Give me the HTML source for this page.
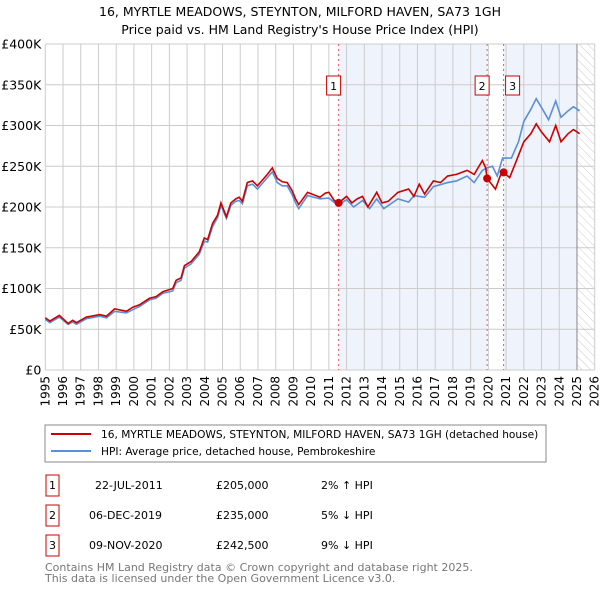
<!DOCTYPE html>
<html><head><meta charset="utf-8"><style>
body{margin:0;background:#fff;font-family:"Liberation Sans","DejaVu Sans",sans-serif;}
svg text{font-family:"DejaVu Sans","Liberation Sans",sans-serif;}
</style></head><body>
<svg id="c" width="600" height="590" xmlns="http://www.w3.org/2000/svg">
<defs><pattern id="hatch" width="6" height="6" patternUnits="userSpaceOnUse" patternTransform="rotate(-45)"><line x1="0" y1="0" x2="0" y2="6" stroke="#ccc" stroke-width="1"/></pattern></defs>
<text x="300" y="16" text-anchor="middle" font-size="12.5" fill="#000">16, MYRTLE MEADOWS, STEYNTON, MILFORD HAVEN, SA73 1GH</text>
<text x="300" y="34" text-anchor="middle" font-size="12.5" fill="#000">Price paid vs. HM Land Registry's House Price Index (HPI)</text>
<g id="plot"></g>
<rect x="45" y="425" width="501" height="37" fill="#fff" stroke="#888"/>
<line x1="51" y1="434" x2="91" y2="434" stroke="#cc0000" stroke-width="2"/>
<text x="101" y="438" font-size="10.6">16, MYRTLE MEADOWS, STEYNTON, MILFORD HAVEN, SA73 1GH (detached house)</text>
<line x1="51" y1="451" x2="91" y2="451" stroke="#5b8fd6" stroke-width="2"/>
<text x="101" y="455" font-size="10.6">HPI: Average price, detached house, Pembrokeshire</text>
<g font-size="11">
<rect x="46" y="475" width="13" height="21" fill="none" stroke="#cc0000"/><text x="52.5" y="489" text-anchor="middle">1</text>
<text x="95" y="489">22-JUL-2011</text><text x="216" y="489">£205,000</text><text x="321" y="489">2% ↑ HPI</text>
<rect x="46" y="505" width="13" height="21" fill="none" stroke="#cc0000"/><text x="52.5" y="519" text-anchor="middle">2</text>
<text x="89" y="519">06-DEC-2019</text><text x="216" y="519">£235,000</text><text x="321" y="519">5% ↓ HPI</text>
<rect x="46" y="535" width="13" height="21" fill="none" stroke="#cc0000"/><text x="52.5" y="549" text-anchor="middle">3</text>
<text x="89" y="549">09-NOV-2020</text><text x="216" y="549">£242,500</text><text x="321" y="549">9% ↓ HPI</text>
</g>
<text x="45" y="571" font-size="11" fill="#777">Contains HM Land Registry data © Crown copyright and database right 2025.</text>
<text x="45" y="582" font-size="11" fill="#777">This data is licensed under the Open Government Licence v3.0.</text>
</svg>
<script>
const yearTicks=[1995,1996,1997,1998,1999,2000,2001,2002,2003,2004,2005,2006,2007,2008,2009,2010,2011,2012,2013,2014,2015,2016,2017,2018,2019,2020,2021,2022,2023,2024,2025,2026];
const valueTicks=[0,50,100,150,200,250,300,350,400];
const valueTickLabels=["£0","£50K","£100K","£150K","£200K","£250K","£300K","£350K","£400K"];
const redYears=[1995.0,1995.26,1995.79,1996.29,1996.54,1996.76,1997.32,1997.6,1998.07,1998.45,1998.91,1999.57,1999.94,2000.32,2000.88,2001.25,2001.63,2002.19,2002.38,2002.66,2002.85,2003.22,2003.69,2003.97,2004.16,2004.44,2004.72,2004.91,2005.22,2005.47,2005.75,2005.94,2006.12,2006.4,2006.69,2006.97,2007.25,2007.53,2007.81,2008.09,2008.37,2008.65,2008.93,2009.12,2009.3,2009.8,2010.5,2010.8,2011.0,2011.3,2011.55,2012.0,2012.3,2012.6,2012.9,2013.2,2013.7,2014.0,2014.35,2014.9,2015.5,2015.8,2016.1,2016.4,2016.9,2017.3,2017.7,2018.2,2018.8,2019.2,2019.66,2019.85,2019.93,2020.4,2020.7,2020.86,2021.2,2021.55,2022.0,2022.4,2022.7,2023.0,2023.45,2023.8,2024.1,2024.5,2024.8,2025.15];
const redValues=[64,60,67,57,61,58,65,66,68,66,75,72,77,80,88,90,96,100,110,113,128,133,145,162,160,180,190,205,188,205,210,212,207,230,232,226,233,240,248,235,231,230,220,210,203,218,212,217,218,208,205,213,205,210,213,200,218,205,207,218,222,213,228,216,232,230,238,240,245,240,257,248,235,222,240,242.5,236,255,280,290,302,292,280,300,280,290,295,290];
const hpiYears=[1995.0,1995.26,1995.79,1996.29,1996.54,1996.76,1997.32,1997.6,1998.07,1998.45,1998.91,1999.57,1999.94,2000.32,2000.88,2001.25,2001.63,2002.19,2002.38,2002.66,2002.85,2003.22,2003.69,2003.97,2004.16,2004.44,2004.72,2004.91,2005.22,2005.47,2005.75,2005.94,2006.12,2006.4,2006.69,2006.97,2007.25,2007.53,2007.81,2008.09,2008.37,2008.65,2008.93,2009.12,2009.3,2009.8,2010.5,2011.0,2011.5,2012.0,2012.4,2012.9,2013.3,2013.7,2014.1,2014.9,2015.5,2015.8,2016.4,2016.9,2017.7,2018.2,2018.8,2019.2,2019.66,2019.94,2020.23,2020.5,2020.8,2021.3,2021.7,2022.0,2022.4,2022.7,2023.0,2023.4,2023.8,2024.1,2024.5,2024.8,2025.15];
const hpiValues=[62,58,65,56,59,56,63,64,66,64,72,70,74,78,86,88,94,97,107,110,125,130,142,158,157,176,187,202,186,202,207,208,204,226,228,222,229,236,243,230,226,226,215,205,198,214,210,211,202,209,200,208,198,210,198,210,206,214,212,225,230,232,238,230,245,248,250,238,260,260,280,305,320,333,322,307,330,310,318,323,318];
const saleYears=[2011.55,2019.93,2020.86];
const saleValues=[205,235,242.5];
const saleLabels=["1","2","3"];

const X0=45.3,X1=594.7,Y0=370,Y1=44;
const xs=y=>X0+(y-1995)*(X1-X0)/31;
const ys=v=>Y0-v*(Y0-Y1)/400;
const NS="http://www.w3.org/2000/svg";
const g=document.getElementById('plot');
function mk(t,a){const e=document.createElementNS(NS,t);for(const k in a)e.setAttribute(k,a[k]);g.appendChild(e);return e;}
let e;
e=mk('rect',{x:xs(saleYears[0]),y:Y1,width:xs(saleYears[1])-xs(saleYears[0]),height:Y0-Y1,fill:'#eef3fc'});


e=mk('rect',{x:xs(saleYears[2]),y:Y1,width:xs(2025.0)-xs(saleYears[2]),height:Y0-Y1,fill:'#eef3fc'});


e=mk('rect',{x:xs(2025.0),y:Y1,width:X1-xs(2025.0),height:Y0-Y1,fill:'url(#hatch)'});


yearTicks.forEach(y=>{
 e=mk('line',{x1:xs(y),x2:xs(y),y1:Y1,y2:Y0,stroke:'#ccc','stroke-width':1});
 
 
 e=mk('text',{x:0,y:0,'font-size':12,'text-anchor':'end',transform:`translate(${xs(y)+4},${Y0+6}) rotate(-90)`});
 e.textContent=y;
 
 
});
valueTicks.forEach((v,i)=>{
 e=mk('line',{x1:X0,x2:X1,y1:ys(v),y2:ys(v),stroke:'#ccc','stroke-width':1});
 
 
 e=mk('text',{x:X0-4,y:ys(v)+4.5,'font-size':12.5,'text-anchor':'end'});
 e.textContent=valueTickLabels[i];
 
 
});
e=mk('line',{x1:xs(2025.0),x2:xs(2025.0),y1:Y1,y2:Y0,stroke:'#888','stroke-width':1});


saleYears.forEach((y,i)=>{
 e=mk('line',{x1:xs(y),x2:xs(y),y1:Y1,y2:Y0,stroke:'#e06060','stroke-width':1,'stroke-dasharray':'2,3'});
 
 
});
e=mk('polyline',{points:hpiYears.map((y,i)=>xs(y)+','+ys(hpiValues[i])).join(' '),fill:'none',stroke:'#5b8fd6','stroke-width':1.6});


e=mk('polyline',{points:redYears.map((y,i)=>xs(y)+','+ys(redValues[i])).join(' '),fill:'none',stroke:'#cc0000','stroke-width':1.6});


const boxOff=[-5,-5,9];
saleYears.forEach((y,i)=>{
 e=mk('circle',{cx:xs(y),cy:ys(saleValues[i]),r:4,fill:'#cc0000'});
 
 
 const bx=xs(y)+boxOff[i]-7;
 e=mk('rect',{x:bx,y:76,width:14,height:19,fill:'#fff',stroke:'#cc0000'});
 
 
 e=mk('text',{x:bx+7,y:90,'font-size':11,'text-anchor':'middle'});
 e.textContent=saleLabels[i];
 
 
});
</script>
</body></html>
